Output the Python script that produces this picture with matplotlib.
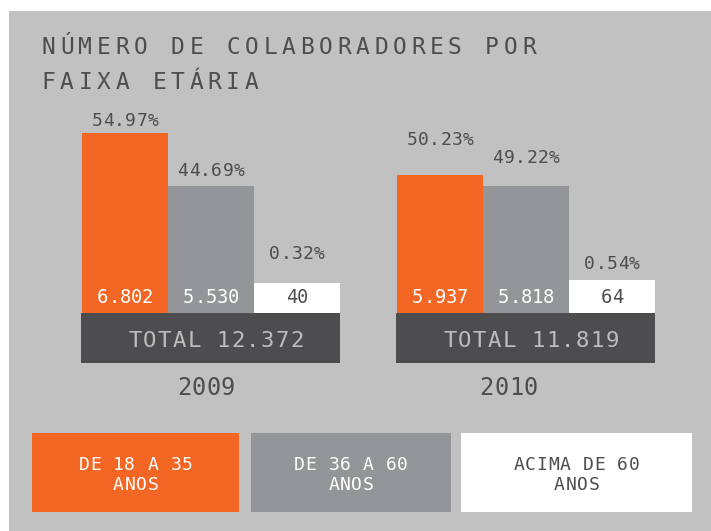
import matplotlib
matplotlib.use("Agg")
import matplotlib.pyplot as plt
from matplotlib.patches import Rectangle

# ---------------- data ----------------
years = ["2009", "2010"]
age_groups = ["DE 18 A 35\nANOS", "DE 36 A 60\nANOS", "ACIMA DE 60\nANOS"]
counts_2009 = [6802, 5530, 40]
counts_2010 = [5937, 5818, 64]
pct_2009 = [54.97, 44.69, 0.32]
pct_2010 = [50.23, 49.22, 0.54]
totals = [12372, 11819]
# drawn bar heights as they appear in the infographic (not to scale)
display_2009 = [180, 127, 30]
display_2010 = [138, 127, 33]

title_lines = ["NÚMERO DE COLABORADORES POR", "FAIXA ETÁRIA"]

# ---------------- style ----------------
W, H = 711, 531
ORANGE = "#F36623"
GRAY = "#939598"
WHITE = "#FFFFFF"
DARK = "#4D4D4F"
BG = "#C1C1C1"
TOTAL_TXT = "#BDBDBD"
bar_colors = [ORANGE, GRAY, WHITE]
value_colors = [WHITE, WHITE, DARK]
legend_txt_colors = [WHITE, WHITE, DARK]
MONO = "DejaVu Sans Mono"

fig = plt.figure(figsize=(W / 100, H / 100), dpi=100, facecolor="white")
ax = fig.add_axes([0, 0, 1, 1])
ax.set_xlim(0, W)
ax.set_ylim(0, H)
ax.axis("off")


def Y(p):  # pixel-from-top -> data y
    return H - p


def spaced(x, y, s, size, pitch, color, align="center"):
    n = len(s)
    c0 = x - (n - 1) / 2 * pitch if align == "center" else x
    for i, ch in enumerate(s):
        if ch == " ":
            continue
        ax.text(c0 + i * pitch, Y(y), ch, ha="center", va="baseline",
                fontsize=size, family=MONO, color=color)


def fmt_int(v):
    return f"{v:,}".replace(",", ".")


# background panel
ax.add_patch(Rectangle((9, 0), W - 9, Y(11), facecolor=BG, edgecolor="none", zorder=0))

# title
title_baselines = [54, 89]
for line, bl in zip(title_lines, title_baselines):
    spaced(48.3, bl, line, 16.5, 18.48, DARK, align="left")

# bars
base_px = 313
bar_w = 86
group_left = [82, 397]
pct_gap = [[6.5, 10.3, 23.7], [30, 23.3, 11]]
year_shift = [-4.5, -17]
all_counts = [counts_2009, counts_2010]
all_pct = [pct_2009, pct_2010]
all_disp = [display_2009, display_2010]

for g, yr in enumerate(years):
    xs = [group_left[g] + bar_w / 2 + i * bar_w for i in range(3)]
    ax.bar(xs, all_disp[g], width=bar_w, bottom=Y(base_px), color=bar_colors,
           edgecolor="none", zorder=2)
    for i in range(3):
        top_px = base_px - all_disp[g][i]
        spaced(xs[i], top_px - pct_gap[g][i], f"{all_pct[g][i]:.2f}%", 13, 11.3, DARK)
        spaced(xs[i], 303, fmt_int(all_counts[g][i]), 13.5, 11.2, value_colors[i])
    # total box
    bx0 = group_left[g] - 1
    bw = 3 * bar_w + 1
    ax.add_patch(Rectangle((bx0, Y(363)), bw, 50, facecolor=DARK, edgecolor="none", zorder=2))
    spaced(bx0 + bw / 2 + 5.5, 347, f"TOTAL {fmt_int(totals[g])}", 16, 14.7, TOTAL_TXT)
    spaced(bx0 + bw / 2 + year_shift[g], 395, yr, 17, 14.5, DARK)

# legend boxes
leg_x = [(32, 239), (251, 451), (461, 692)]
for (x0, x1), lab, col, tcol in zip(leg_x, age_groups, bar_colors, legend_txt_colors):
    ax.add_patch(Rectangle((x0, Y(512)), x1 - x0, 79, facecolor=col, edgecolor="none", zorder=2))
    for k, ln in enumerate(lab.split("\n")):
        spaced((x0 + x1) / 2, 470 + 20 * k, ln, 13, 11.5, tcol)

fig.savefig("out.png", dpi=100, facecolor="white")
